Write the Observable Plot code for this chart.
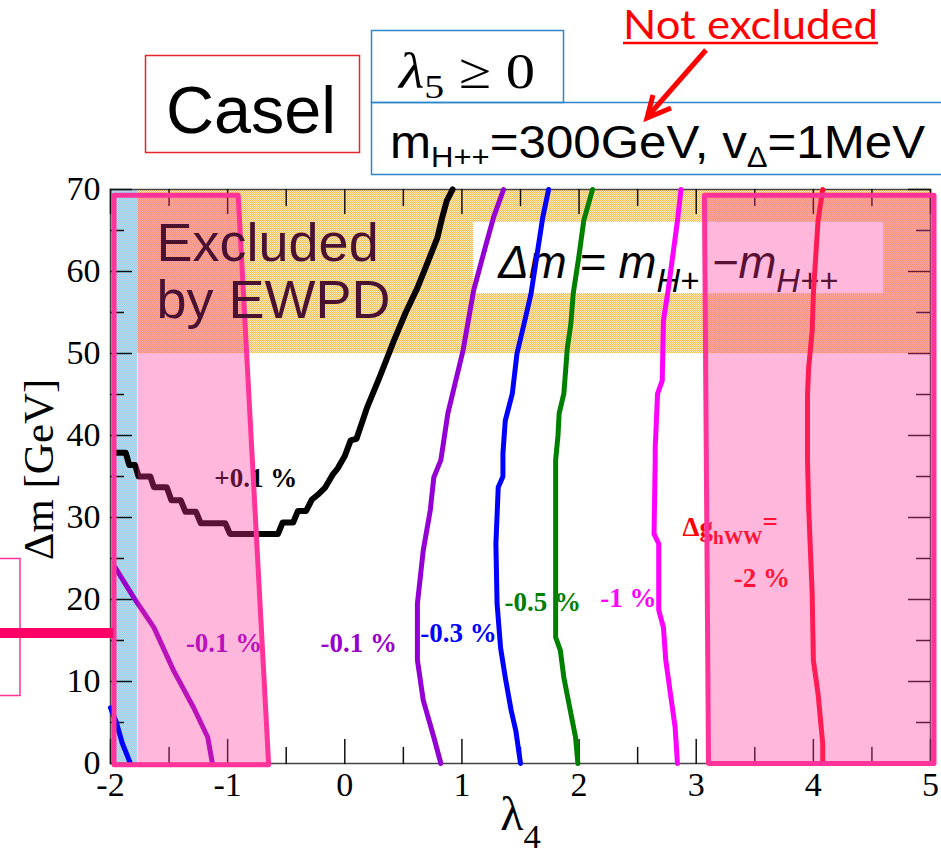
<!DOCTYPE html>
<html>
<head>
<meta charset="utf-8">
<script src="https://cdn.jsdelivr.net/npm/d3@7"></script>
<script src="https://cdn.jsdelivr.net/npm/@observablehq/plot@0.6"></script>
<style>
  html, body { margin: 0; padding: 0; background: #fff; }
  #wrap { position: relative; width: 941px; height: 856px; overflow: hidden; }
  #chart svg { display: block; overflow: visible; }
  #ann { position: absolute; left: 0; top: 0; pointer-events: none; }
</style>
</head>
<body>
<div id="wrap">
  <div id="chart"></div>
  <svg id="ann" width="941" height="856" xmlns="http://www.w3.org/2000/svg">
    <!-- Case box -->
    <rect x="145.5" y="55.5" width="214" height="97" fill="none" stroke="#e8262a" stroke-width="1.5"/>
    <text x="166" y="133" font-family="Liberation Sans" font-size="66" fill="#000" textLength="170" lengthAdjust="spacingAndGlyphs">Casel</text>
    <!-- lambda5 box -->
    <rect x="371.5" y="30.5" width="192" height="72" fill="none" stroke="#2e86c8" stroke-width="1.5"/>
    <text x="399" y="88" font-family="Liberation Serif" font-size="50" fill="#000" textLength="136" lengthAdjust="spacingAndGlyphs"><tspan font-style="italic">λ</tspan><tspan dy="10" font-size="34">5</tspan><tspan dy="-10"> ≥ 0</tspan></text>
    <!-- mass box -->
    <rect x="371.5" y="102.5" width="600" height="72" fill="none" stroke="#2e86c8" stroke-width="1.5"/>
    <text x="390" y="158" font-family="Liberation Sans" font-size="46" fill="#000" textLength="535" lengthAdjust="spacingAndGlyphs">m<tspan dy="9" font-size="29">H++</tspan><tspan dy="-9">=300GeV, v</tspan><tspan dy="9" font-size="29">Δ</tspan><tspan dy="-9">=1MeV</tspan></text>
    <!-- Not excluded -->
    <text x="623" y="39" font-family="Lato" font-size="40" fill="#ff0000" textLength="255" lengthAdjust="spacingAndGlyphs">Not excluded</text>
    <line x1="623" y1="43" x2="878" y2="43" stroke="#ff0000" stroke-width="2.5"/>
    <line x1="706" y1="50" x2="649" y2="115" stroke="#ff0000" stroke-width="5"/>
    <polyline points="653,95 647,118 671,108" fill="none" stroke="#ff0000" stroke-width="5" stroke-linejoin="miter"/>
    <!-- left margin fragments -->
    <rect x="-1" y="558.5" width="21" height="137" fill="none" stroke="#ff3399" stroke-width="1.5"/>
    <rect x="0" y="628" width="113" height="10" fill="#ff0066"/>
  </svg>
</div>
<script>
// ---------- data ----------
const xDomain = [-2, 5];
const yDomain = [0, 70];
const xMajor = [-2, -1, 0, 1, 2, 3, 4, 5];
const xMinor = [-1.5, -0.5, 0.5, 1.5, 2.5, 3.5, 4.5];
const yMajor = [0, 10, 20, 30, 40, 50, 60, 70];
const yMinor = [5, 15, 25, 35, 45, 55, 65];

// excluded by EWPD band (lambda4 range, Delta m range)
const ewpdBand = [{l1: -2, l2: 5, m1: 50, m2: 70}];
// light-blue strip at the left edge
const blueStrip = [{l1: -2, l2: -1.77, m1: 0, m2: 70}];
// white box behind the Delta m definition
const defBox = [{l1: 1.1, l2: 4.6, m1: 57.3, m2: 66.0}];

// contours of Delta g_hWW : [lambda4, Delta m]
const cPlus01 = [[-1.95,37.9],[-1.87,37.9],[-1.84,36.4],[-1.79,36.4],[-1.76,35.0],[-1.66,35.0],[-1.63,33.7],[-1.52,33.7],[-1.48,32.1],[-1.40,32.1],[-1.36,30.7],[-1.27,30.7],[-1.23,29.3],[-1.02,29.3],[-0.98,28.0],[-0.57,28.0],[-0.53,29.4],[-0.44,29.4],[-0.40,30.8],[-0.33,30.8],[-0.28,32.2],[-0.22,32.9],[-0.17,33.6],[-0.10,35.3],[-0.06,36.0],[0.0,37.5],[0.05,39.4],[0.10,39.6],[0.19,43.4],[0.30,47.2],[0.42,51.6],[0.52,55.0],[0.62,58.0],[0.71,61.2],[0.79,64.1],[0.83,66.5],[0.87,68.6],[0.92,70]];
const cMinus01a = [[-1.96,23.9],[-1.80,20.2],[-1.63,16.6],[-1.46,11.3],[-1.29,6.8],[-1.17,3.2],[-1.13,0]];
const cMinus01b = [[0.82,0],[0.76,3.2],[0.67,7.7],[0.62,12.6],[0.62,19.5],[0.67,26.0],[0.73,30.9],[0.76,34.9],[0.82,37.0],[0.88,42.7],[1.01,50.4],[1.10,57.7],[1.20,63.0],[1.27,66.6],[1.355,70]];
const cMinus03a = [[-2.0,6.8],[-1.95,5.0],[-1.90,2.5],[-1.83,0]];
const cMinus03b = [[1.50,0],[1.46,4.0],[1.42,6.5],[1.37,10.5],[1.33,14.1],[1.30,19.5],[1.29,26.8],[1.31,33.7],[1.35,35.0],[1.35,37.8],[1.37,41.8],[1.43,45.1],[1.47,50.0],[1.53,53.6],[1.59,57.3],[1.69,66.6],[1.74,70]];
const cMinus05 = [[1.99,0],[1.97,3.2],[1.93,6.1],[1.87,10.5],[1.84,13.8],[1.80,15.4],[1.80,37.0],[1.82,40.0],[1.83,42.7],[1.87,45.1],[1.90,50.7],[1.93,53.6],[1.95,57.3],[2.00,62.0],[2.04,66.2],[2.115,70]];
const cMinus1 = [[2.84,0],[2.82,4.4],[2.78,8.5],[2.74,12.6],[2.72,16.6],[2.68,18.7],[2.68,26.8],[2.64,28.0],[2.65,37.0],[2.65,38.5],[2.67,45.1],[2.71,46.7],[2.72,54.0],[2.76,57.7],[2.84,66.2],[2.87,70]];
const cMinus2 = [[4.08,0],[4.08,2.4],[4.04,8.5],[4.00,12.6],[3.99,20.7],[3.96,31.2],[3.95,37.0],[3.95,45.0],[3.96,48.3],[3.99,52.8],[4.00,57.3],[4.04,66.2],[4.08,70]];

const contours = [
  {pts: cPlus01,   color: "#000000", w: 6},
  {pts: cMinus01a, color: "#9900cc", w: 5},
  {pts: cMinus01b, color: "#9400d3", w: 5},
  {pts: cMinus03a, color: "#0000ff", w: 5},
  {pts: cMinus03b, color: "#0000ff", w: 5},
  {pts: cMinus05,  color: "#008000", w: 5},
  {pts: cMinus1,   color: "#ff00ff", w: 5},
  {pts: cMinus2,   color: "#ff1030", w: 5}
];

const labelText  = ["+0.1 %", "-0.1 %", "-0.1 %", "-0.3 %", "-0.5 %", "-1 %", "-2 %"];
const labelLam   = [-0.76, -1.03, 0.12, 0.97, 1.69, 2.42, 3.56];
const labelDm    = [34.8, 14.6, 14.6, 15.9, 19.6, 20.2, 22.6];
const labelColor = ["#000000", "#9900cc", "#9900cc", "#0000ff", "#008000", "#ff00ff", "#ff0000"];
const labels = labelText.map((t, i) => ({t, l: labelLam[i], m: labelDm[i], c: labelColor[i]}));

const dgLabel = [{t: "Δg_{hWW}^{=}", l: 2.883, m: 27.8}];
const defText = [{t: "Δm = m_{H+} −m_{H++}", l: 1.31, m: 59.15}];
const ewpdText = [{t: "Excluded\nby EWPD", l: -1.607, m: 66.26}];

// excluded (pink) regions, corners [lambda4, Delta m]
const pinkLeft  = [[-1.97,69.3],[-0.91,69.3],[-0.65,-0.15],[-1.97,-0.15]];
const pinkRight = [[3.07,69.3],[5.03,69.3],[5.03,0],[3.105,0]];
const closed = p => [...p, p[0]];
// the blue strip shows through the left pink region
const pinkLeftFill = pinkLeft.map(([l, m]) => [Math.max(l, blueStrip[0].l2), m]);

// ---------- chart ----------
const W = 941, H = 856, ML = 110, MR = 11, MT = 189, MB = 93;
const frameW = W - ML - MR, frameH = H - MT - MB;
const pxToDm = px => px * (yDomain[1] - yDomain[0]) / frameH;   // tick length in y units
const serif = "Liberation Serif";
const fmt = d => (d < 0 ? "-" + Math.abs(d) : String(d));
const tk = {stroke: "#111", strokeWidth: 1.5};

// vertical tick segments (bottom and top edges) as two-point paths
const xTickSegs = [];
[[xMajor, 24], [xMinor, 16]].forEach(([vals, len]) => vals.forEach(v => {
  xTickSegs.push({x: v, y: yDomain[0], k: "b" + v}, {x: v, y: yDomain[0] + pxToDm(len), k: "b" + v});
  xTickSegs.push({x: v, y: yDomain[1] - pxToDm(len), k: "t" + v}, {x: v, y: yDomain[1], k: "t" + v});
}));

const marks = [
  Plot.rect(ewpdBand, {x1: "l1", x2: "l2", y1: "m1", y2: "m2", fill: "url(#ewpdDots)"}),
  Plot.rect(blueStrip, {x1: "l1", x2: "l2", y1: "m1", y2: "m2", fill: "url(#blueDots)"}),
  Plot.rect(defBox, {x1: "l1", x2: "l2", y1: "m1", y2: "m2", fill: "white"}),
  Plot.text(defText, {x: "l", y: "m", text: "t", textAnchor: "start", lineAnchor: "bottom",
    fontFamily: "Liberation Sans", fontStyle: "italic", fontSize: 46, fill: "#000"}),
  // tick labels
  Plot.axisX({ticks: xMajor, anchor: "bottom", tickSize: 0, tickPadding: 8, tickFormat: fmt,
    fontSize: 34, fontFamily: serif, fill: "#000", label: null}),
  Plot.axisY({ticks: yMajor, anchor: "left", tickSize: 0, tickPadding: 10, tickFormat: fmt,
    fontSize: 34, fontFamily: serif, fill: "#000", label: null}),
  Plot.frame({stroke: "#444", strokeWidth: 1.5}),
  // inward ticks on all four sides
  Plot.line(xTickSegs, {x: "x", y: "y", z: "k", ...tk}),
  Plot.ruleY(yMajor, {y: d => d, insetRight: frameW - 22, ...tk}),
  Plot.ruleY(yMinor, {y: d => d, insetRight: frameW - 14, ...tk}),
  Plot.ruleY(yMajor, {y: d => d, insetLeft: frameW - 22, ...tk}),
  Plot.ruleY(yMinor, {y: d => d, insetLeft: frameW - 14, ...tk}),
  // contours
  ...contours.map(c => Plot.line(c.pts, {x: d => d[0], y: d => d[1], stroke: c.color, strokeWidth: c.w})),
  Plot.text(labels, {x: "l", y: "m", text: "t", fill: "c", fontFamily: serif, fontWeight: "bold", fontSize: 27}),
  Plot.text(dgLabel, {x: "l", y: "m", text: "t", textAnchor: "start", lineAnchor: "bottom",
    fill: "#ff0000", fontFamily: serif, fontWeight: "bold", fontSize: 27}),
  // excluded regions
  Plot.line(closed(pinkLeftFill), {x: d => d[0], y: d => d[1], fill: "#ff3399", fillOpacity: 0.35, stroke: "none"}),
  Plot.line(closed(pinkLeft), {x: d => d[0], y: d => d[1], fill: "none",
    stroke: "#ff3399", strokeWidth: 5, strokeLinejoin: "round"}),
  Plot.line(closed(pinkRight), {x: d => d[0], y: d => d[1], fill: "#ff3399", fillOpacity: 0.35,
    stroke: "#ff3399", strokeWidth: 5, strokeLinejoin: "round"}),
  Plot.text(ewpdText, {x: "l", y: "m", text: "t", textAnchor: "start", lineAnchor: "top", lineHeight: 1.06,
    fontFamily: "Liberation Sans", fontSize: 54, fill: "#4a1232"}),
  // axis titles
  Plot.text(["λ_{4}"], {frameAnchor: "bottom", textAnchor: "middle", lineAnchor: "bottom", dy: 66,
    fontFamily: serif, fontSize: 48, fill: "#000"}),
  Plot.text(["Δm [GeV]"], {frameAnchor: "left", textAnchor: "middle", lineAnchor: "middle", rotate: -90,
    dx: -71, dy: -7, fontFamily: serif, fontSize: 43, fill: "#000"})
];

const svg = Plot.plot({
  width: W,
  height: H,
  marginLeft: ML,
  marginRight: MR,
  marginTop: MT,
  marginBottom: MB,
  x: {domain: xDomain, label: null},
  y: {domain: yDomain, label: null},
  style: {background: "white", overflow: "visible"},
  marks
});

// patterns for the textured regions
svg.insertAdjacentHTML("afterbegin", `
<defs>
  <pattern id="ewpdDots" width="2" height="2" patternUnits="userSpaceOnUse">
    <rect width="2" height="2" fill="#fff0cc"/>
    <rect width="1" height="1" fill="#ffb84a"/>
    <rect x="1" y="1" width="1" height="1" fill="#ffb84a"/>
  </pattern>
  <pattern id="blueDots" width="2" height="2" patternUnits="userSpaceOnUse">
    <rect width="2" height="2" fill="#c4d2e6"/>
    <rect width="1" height="1" fill="#8fd6ee"/>
    <rect x="1" y="1" width="1" height="1" fill="#8fd6ee"/>
  </pattern>
</defs>`);

document.getElementById("chart").appendChild(svg);

// sub/superscript rendering for "_{...}" and "^{...}"
const special = {"λ_{4}": {sub: 0.38, subSize: 0.72}};
svg.querySelectorAll("text").forEach(el => {
  const s = el.textContent;
  if (!/[_^]\{/.test(s)) return;
  const fs = parseFloat(getComputedStyle(el).fontSize);
  const opt = Object.assign({sub: 0.3, subSize: 0.72, sup: -0.15, supSize: 1}, special[s] || {});
  el.textContent = "";
  const re = /([_^])\{([^}]*)\}|([^_^]+)/g;
  let m, shift = 0;
  while ((m = re.exec(s))) {
    const t = document.createElementNS("http://www.w3.org/2000/svg", "tspan");
    let target = 0, size = null;
    if (m[1] === "_") { target = opt.sub * fs; size = opt.subSize * fs; t.textContent = m[2]; }
    else if (m[1] === "^") { target = opt.sup * fs; size = opt.supSize * fs; t.textContent = m[2]; }
    else { t.textContent = m[3]; }
    t.setAttribute("dy", (target - shift).toFixed(2));
    shift = target;
    if (size) t.setAttribute("font-size", size.toFixed(1));
    el.appendChild(t);
  }
  if (s.startsWith("Δm = ")) {
    el.setAttribute("textLength", "340");
    el.setAttribute("lengthAdjust", "spacingAndGlyphs");
  }
});
</script>
</body>
</html>
